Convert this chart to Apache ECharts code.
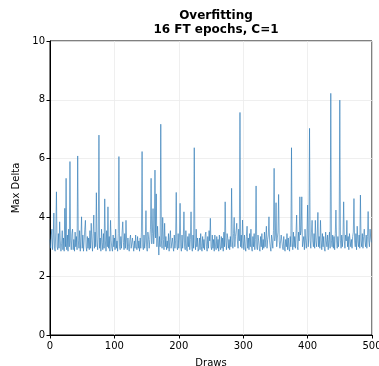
<!DOCTYPE html>
<html>
<head>
<meta charset="utf-8">
<script src="https://cdn.jsdelivr.net/npm/echarts@6/dist/echarts.min.js"></script>
<style>
  html, body { margin: 0; padding: 0; background: #fff; }
  #chart { width: 379px; height: 366px; }
</style>
</head>
<body>
<div id="chart"></div>
<script>
// Max delta per draw (draw index = position in the array)
const maxDelta = [
  3.25, 2.95, 3.4, 3.6, 2.9, 3.3, 4.15, 2.95, 2.85, 3.5, 4.87, 3.0, 2.9, 3.45, 2.95, 3.85, 3.2, 2.85, 3.1, 3.55,
  2.9, 3.3, 2.85, 4.31, 3.0, 5.33, 2.9, 3.4, 2.85, 3.6, 3.0, 5.9, 3.2, 2.9, 3.45, 3.6, 2.9, 3.25, 2.85, 3.5,
  3.0, 3.35, 2.9, 6.09, 3.2, 2.95, 3.55, 2.85, 3.3, 4.02, 2.95, 3.4, 2.85, 3.2, 3.6, 3.9, 3.0, 2.85, 3.35, 2.95,
  3.3, 2.9, 3.55, 2.95, 3.8, 3.2, 2.85, 3.45, 4.08, 2.95, 3.5, 3.0, 4.84, 3.2, 2.9, 3.4, 6.8, 2.95, 3.3, 2.85,
  3.6, 3.15, 2.9, 3.45, 2.95, 4.63, 3.2, 2.85, 3.55, 3.0, 4.36, 2.95, 3.35, 2.85, 3.9, 3.2, 2.95, 2.85, 3.4, 3.0,
  3.3, 2.9, 3.6, 2.95, 3.2, 2.85, 3.45, 6.07, 3.0, 2.9, 3.35, 2.95, 3.5, 3.85, 3.15, 2.9, 3.45, 2.95, 3.9, 3.2,
  2.9, 3.3, 3.0, 2.85, 3.25, 3.4, 2.95, 2.9, 3.3, 3.05, 2.85, 3.2, 2.95, 3.4, 3.0, 2.9, 3.35, 2.95, 3.2, 2.85,
  3.3, 2.95, 3.5, 6.24, 3.0, 2.9, 3.4, 2.95, 3.2, 4.23, 3.0, 2.85, 3.5, 3.3, 2.95, 3.25, 3.6, 5.33, 3.1, 3.45,
  4.3, 3.1, 3.5, 5.61, 3.3, 4.8, 3.0, 3.7, 3.2, 2.72, 3.35, 3.0, 7.17, 3.2, 2.95, 4.0, 3.25, 2.9, 3.8, 3.0,
  3.35, 2.9, 3.2, 2.95, 3.45, 2.85, 3.25, 3.55, 2.95, 2.9, 3.3, 3.0, 2.85, 3.4, 2.95, 3.2, 4.85, 3.0, 2.9, 3.45,
  2.95, 3.3, 4.48, 3.0, 2.85, 3.4, 2.95, 3.3, 4.19, 3.0, 2.9, 3.55, 2.95, 2.85, 3.35, 3.0, 3.45, 2.9, 3.25, 4.19,
  3.0, 2.85, 3.4, 2.95, 6.37, 3.2, 2.9, 3.6, 3.0, 3.3, 2.85, 2.95, 3.3, 2.9, 3.45, 3.0, 2.85, 3.35, 2.95, 3.25,
  2.9, 3.4, 3.5, 3.0, 2.85, 3.35, 2.95, 3.55, 3.2, 3.97, 3.0, 2.9, 3.4, 2.95, 3.25, 2.85, 3.4, 3.0, 2.9, 3.35,
  2.95, 3.25, 2.85, 3.4, 3.0, 2.9, 3.35, 2.95, 3.3, 2.85, 3.5, 3.0, 4.53, 3.2, 2.9, 3.45, 3.3, 2.95, 3.25, 2.9,
  3.35, 3.0, 4.99, 3.2, 2.95, 3.45, 4.0, 3.0, 3.35, 3.55, 3.8, 3.2, 2.95, 3.6, 3.2, 7.57, 3.0, 3.4, 2.95, 3.91,
  3.2, 2.9, 3.4, 3.0, 2.85, 3.35, 3.7, 2.95, 3.3, 2.9, 3.45, 3.0, 3.6, 2.95, 2.85, 3.35, 3.0, 3.45, 2.9, 3.25,
  5.07, 3.0, 2.9, 3.4, 3.2, 2.95, 2.85, 3.35, 3.0, 3.45, 2.9, 3.25, 2.95, 3.5, 3.0, 3.3, 3.7, 2.95, 3.25, 3.4,
  4.02, 3.2, 3.0, 2.85, 3.4, 3.2, 2.95, 3.55, 5.67, 3.2, 3.4, 4.5, 3.0, 3.3, 3.5, 4.78, 3.2, 2.95, 2.9, 3.4,
  3.4, 3.0, 2.9, 3.35, 2.95, 2.85, 3.25, 3.0, 3.45, 2.9, 3.3, 2.95, 2.85, 3.35, 3.0, 6.37, 3.2, 2.9, 3.5, 3.0,
  3.35, 2.95, 3.45, 4.08, 3.0, 2.9, 3.5, 3.2, 4.7, 3.4, 3.55, 4.7, 3.0, 2.95, 3.35, 2.9, 3.6, 3.2, 2.95, 3.4,
  4.42, 3.0, 3.4, 7.03, 3.2, 2.95, 3.5, 3.9, 3.2, 3.0, 3.45, 2.95, 3.9, 3.2, 3.0, 3.4, 4.17, 3.0, 3.35, 2.95,
  3.9, 3.2, 2.9, 3.45, 3.0, 3.35, 2.95, 2.85, 3.5, 3.2, 3.0, 3.4, 2.9, 3.25, 3.5, 2.95, 8.22, 3.2, 3.0, 3.4,
  2.95, 3.35, 2.9, 3.45, 4.25, 3.2, 2.95, 3.35, 3.0, 3.4, 7.99, 3.2, 2.95, 3.4, 3.0, 3.35, 4.53, 3.2, 2.95, 3.4,
  3.2, 3.9, 3.0, 3.35, 2.9, 3.45, 3.4, 3.0, 3.25, 2.95, 3.35, 3.5, 4.64, 3.2, 3.0, 3.45, 2.9, 3.7, 3.2, 3.0,
  3.4, 2.95, 4.76, 3.2, 3.0, 3.45, 2.95, 3.35, 3.6, 3.2, 3.0, 3.4, 2.95, 3.35, 4.2, 3.2, 3.0, 3.6, 3.3, 3.15
];

const titleLines = ['Overfitting', '16 FT epochs, C=1'];
const xTicks = [0, 100, 200, 300, 400, 500];
const yTicks = [0, 2, 4, 6, 8, 10];

const FONT = 'DejaVu Sans';
const chart = echarts.init(document.getElementById('chart'), null, { renderer: 'canvas' });

chart.setOption({
  animation: false,
  backgroundColor: '#fff',
  title: {
    text: titleLines.join('\n'),
    left: 211,
    textAlign: 'center',
    top: 4,
    textStyle: {
      fontFamily: FONT, fontSize: 12, fontWeight: 'bold', color: '#000', lineHeight: 14
    }
  },
  grid: {
    left: 50, right: 7, top: 41, bottom: 31,
    containLabel: false,
    outerBoundsMode: 'none',
    show: true, borderColor: '#000', borderWidth: 1, backgroundColor: 'transparent'
  },
  xAxis: {
    type: 'value',
    min: xTicks[0], max: xTicks[xTicks.length - 1], interval: 100,
    name: 'Draws', nameLocation: 'middle', nameGap: 23,
    nameTextStyle: { fontFamily: FONT, fontSize: 10, color: '#000' },
    axisLine: { show: true, lineStyle: { color: '#000', width: 1 } },
    axisTick: { show: true, length: 3.5, lineStyle: { color: '#000' } },
    axisLabel: { fontFamily: FONT, fontSize: 10, color: '#000', margin: 6 },
    splitLine: { show: true, lineStyle: { color: '#ebebeb', width: 0.8 } }
  },
  yAxis: {
    type: 'value',
    min: yTicks[0], max: yTicks[yTicks.length - 1], interval: 2,
    name: 'Max Delta', nameLocation: 'middle', nameGap: 23, nameRotate: 90,
    nameTextStyle: { fontFamily: FONT, fontSize: 10, color: '#000' },
    axisLine: { show: true, lineStyle: { color: '#000', width: 1 } },
    axisTick: { show: true, length: 3.5, lineStyle: { color: '#000' } },
    axisLabel: { fontFamily: FONT, fontSize: 10, color: '#000', margin: 5 },
    splitLine: { show: true, lineStyle: { color: '#ebebeb', width: 0.8 } }
  },
  series: [{
    type: 'line',
    data: maxDelta.map((v, i) => [i, v]),
    showSymbol: false,
    symbol: 'none',
    lineStyle: { color: '#2a78b5', width: 0.8, opacity: 0.78 },
    silent: true
  }]
});
</script>
</body>
</html>
